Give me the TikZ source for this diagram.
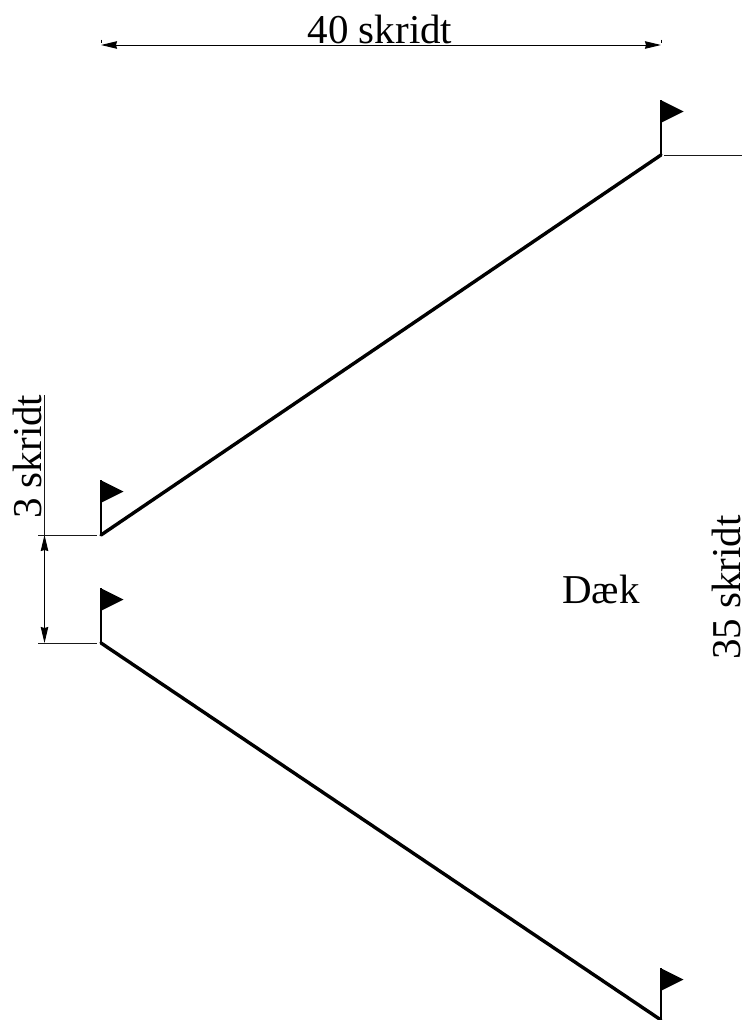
\documentclass[tikz,border=0pt]{standalone}
\usepackage{fontspec}
\setmainfont{Liberation Serif}
\usetikzlibrary{arrows.meta}
\tikzset{
  wall/.style={line width=3.4pt,line cap=round},
  pole/.style={line width=1.2pt},
  flagtri/.style={fill=black,draw=none},
  dimline/.style={line width=1pt,black!90},
  dimarrow/.style={line width=1pt,black,{Stealth[length=16pt,width=7.5pt,inset=1pt]}-{Stealth[length=16pt,width=7.5pt,inset=1pt]}},
  lbl/.style={inner sep=0pt,font=\fontsize{41}{41}\selectfont}
}
\newcommand{\flagat}[2]{%
  \fill[flagtri] (#1,#2) -- ++(0,23) -- ++(23,-11.5) -- cycle;}
\begin{document}
\begin{tikzpicture}[x=1pt,y=-1pt]
\useasboundingbox (0,0) rectangle (742,1020);
\coordinate (TL) at (101,535);
\coordinate (TR) at (661,155);
\coordinate (BL) at (101,643);
\coordinate (BR) at (661,1020);
\coordinate (TLf) at (101,480);
\coordinate (TRf) at (661,100);
\coordinate (BLf) at (101,588);
\coordinate (BRf) at (661,968);
% walls
\draw[wall] (TL) -- (TR);
\draw[wall] (BL) -- (BR);
% poles
\draw[pole] (TL) -- (TLf);
\draw[pole] (TR) -- (TRf);
\draw[pole] (BL) -- (BLf);
\draw[pole] (BR) -- (BRf);
% flags
\flagat{100.5}{480}
\flagat{660.5}{100}
\flagat{100.5}{588}
\flagat{660.5}{968}
% top dimension
\coordinate (dA) at (101,45);
\coordinate (dB) at (661,45);
\draw[dimarrow] (dA) -- (dB);
\draw[line width=0.9pt] (101,39.5) -- (101,43);
\draw[line width=0.9pt] (661,39.5) -- (661,43);
\node[lbl,anchor=base] (t40) at (380,43) {40 skridt};
% right extension
\coordinate (eR) at (742,155);
\draw[dimline] (664,155) -- (eR);
% left dimension
\coordinate (l1) at (38,535);
\coordinate (l1e) at (97,535);
\coordinate (l2) at (38,643);
\coordinate (l2e) at (97,643);
\coordinate (vT) at (44.5,395);
\coordinate (vA) at (44.5,535);
\coordinate (vB) at (44.5,643);
\draw[dimline] (l1) -- (l1e);
\draw[dimline] (l2) -- (l2e);
\draw[dimline] (vT) -- (vA);
\draw[dimarrow] (vA) -- (vB);
\node[lbl,anchor=base west,rotate=90] (t3) at (41,519) {3 skridt};
\node[lbl,anchor=base west,rotate=90] (t35) at (740,660) {35 skridt};
\node[lbl,anchor=base] (tD) at (601,603) {Dæk};
\end{tikzpicture}
\end{document}
